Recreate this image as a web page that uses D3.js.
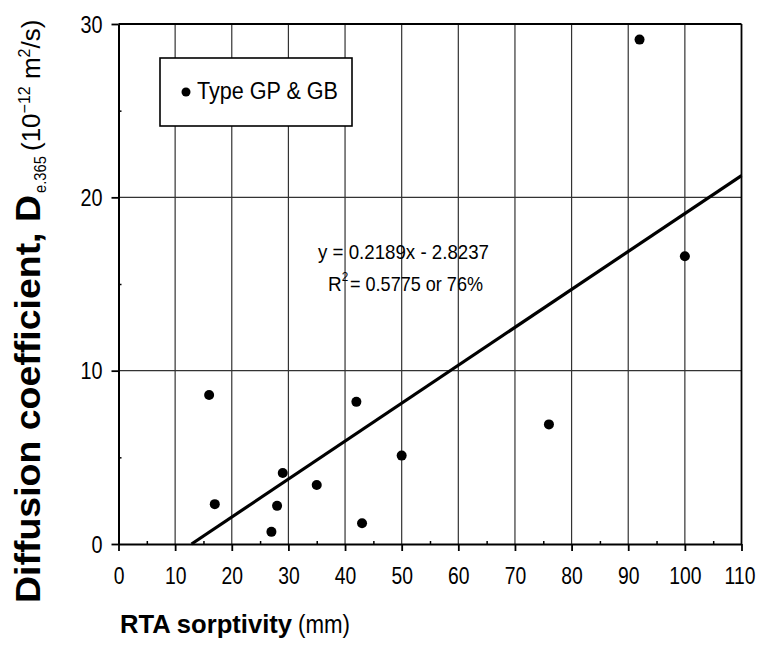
<!DOCTYPE html>
<html><head><meta charset="utf-8">
<script src="https://cdn.jsdelivr.net/npm/d3@7"></script>
<style>
html,body{margin:0;padding:0;background:#fff;}
svg text{font-family:"Liberation Sans",Arial,Helvetica,sans-serif;fill:#000;}
</style></head>
<body><svg id="c" width="761" height="652"></svg>
<script>
// ---- data ----
const sorptivity = [16, 17, 27, 28, 29, 35, 42, 43, 50, 76, 92, 100];
const diffusion  = [8.6, 2.3, 0.7, 2.2, 4.1, 3.4, 8.2, 1.2, 5.1, 6.9, 29.1, 16.6];
const xTicks = [0,10,20,30,40,50,60,70,80,90,100,110];
const xMinor = [5,15,25,35,45,55,65,75,85,95,105];
const yTicks = [0,10,20,30];
const yMinor = [5,15,25];
const slope = 0.2189, intercept = -2.8237;
const eqLine1 = "y = 0.2189x - 2.8237";
const eqLine2 = "= 0.5775 or 76%";
const legendLabel = "Type GP & GB";

const svg = d3.select("#c");
const x = d3.scaleLinear().domain([0,110]).range([118.5,741.5]);
const y = d3.scaleLinear().domain([0,30]).range([544,24]);

function condense(sel, f){
  sel.each(function(){ const L=this.getComputedTextLength(); d3.select(this).attr("textLength",L*f).attr("lengthAdjust","spacingAndGlyphs"); });
}

// grid
const g = svg.append("g");
g.selectAll("line.vg").data(xTicks.slice(1,-1)).join("line")
  .attr("x1",d=>x(d)).attr("x2",d=>x(d)).attr("y1",y(0)).attr("y2",y(30))
  .attr("stroke","#333").attr("stroke-width",1.2);
g.selectAll("line.hg").data([10,20]).join("line")
  .attr("x1",x(0)).attr("x2",x(110)).attr("y1",d=>y(d)).attr("y2",d=>y(d))
  .attr("stroke","#333").attr("stroke-width",1.2);
// frame top/right
svg.append("line").attr("x1",x(0)).attr("x2",x(110)).attr("y1",y(30)).attr("y2",y(30)).attr("stroke","#000").attr("stroke-width",1.8);
svg.append("line").attr("x1",x(110)).attr("x2",x(110)).attr("y1",y(0)).attr("y2",y(30)).attr("stroke","#000").attr("stroke-width",1.8);

// axes
const fs = "23px";
const xa = svg.append("g").attr("transform",`translate(0,${y(0)})`)
  .call(d3.axisBottom(x).tickValues(xTicks).tickSize(7).tickSizeOuter(0));
xa.select(".domain").attr("stroke-width",2);
xa.selectAll(".tick line").attr("stroke-width",1.8);
xa.selectAll("text").attr("font-size",fs).attr("font-family",null).attr("y",40).attr("dy",0)
  .attr("dx",d=>d===110?-2:0);
condense(xa.selectAll("text"),0.84);
const xm = svg.append("g").attr("transform",`translate(0,${y(0)})`)
  .call(d3.axisBottom(x).tickValues(xMinor).tickSize(-3).tickFormat(""));
xm.select(".domain").remove();
xm.selectAll(".tick line").attr("stroke-width",1.5);

const ya = svg.append("g").attr("transform",`translate(${x(0)},0)`)
  .call(d3.axisLeft(y).tickValues(yTicks).tickSize(7).tickSizeOuter(0).tickPadding(9));
ya.select(".domain").attr("stroke-width",2);
ya.selectAll(".tick line").attr("stroke-width",1.8);
ya.selectAll("text").attr("font-size",fs).attr("font-family",null).attr("dy","0.36em");
condense(ya.selectAll("text"),0.86);
const ym = svg.append("g").attr("transform",`translate(${x(0)},0)`)
  .call(d3.axisLeft(y).tickValues(yMinor).tickSize(-3).tickFormat(""));
ym.select(".domain").remove();
ym.selectAll(".tick line").attr("stroke-width",1.5);

// regression line
const x0 = -intercept/slope;
svg.append("line")
  .attr("x1",x(x0)).attr("y1",y(slope*x0+intercept))
  .attr("x2",x(110)).attr("y2",y(slope*110+intercept))
  .attr("stroke","#000").attr("stroke-width",3.2);

// points
svg.selectAll("circle.pt").data(sorptivity.map((s,i)=>[s,diffusion[i]])).join("circle")
  .attr("cx",d=>x(d[0])).attr("cy",d=>y(d[1])).attr("r",5).attr("fill","#000");

// equation
svg.append("text").attr("x",318).attr("y",259).attr("font-size","21px")
  .attr("textLength",171).attr("lengthAdjust","spacingAndGlyphs").text(eqLine1);
const r2 = svg.append("text").attr("x",328).attr("y",291).attr("font-size","21px");
r2.append("tspan").text("R");
r2.append("tspan").attr("font-size","13px").attr("dy",-10).text("2");
condense(r2, 0.9);
svg.append("text").attr("x",350).attr("y",291).attr("font-size","21px")
  .attr("textLength",133).attr("lengthAdjust","spacingAndGlyphs").text(eqLine2);

// legend
svg.append("rect").attr("x",160).attr("y",58).attr("width",192).attr("height",68)
  .attr("fill","#fff").attr("stroke","#000").attr("stroke-width",1.6);
svg.append("circle").attr("cx",186).attr("cy",92).attr("r",4.5).attr("fill","#000");
svg.append("text").attr("x",197).attr("y",99).attr("font-size","23px")
  .attr("textLength",141).attr("lengthAdjust","spacingAndGlyphs").text(legendLabel);

// x title
svg.append("text").attr("x",120).attr("y",633).attr("font-size","26px").attr("font-weight","bold")
  .attr("textLength",172).attr("lengthAdjust","spacingAndGlyphs").text("RTA sorptivity");
svg.append("text").attr("x",298).attr("y",633).attr("font-size","25px")
  .attr("textLength",52).attr("lengthAdjust","spacingAndGlyphs").text("(mm)");

// y title (rotated group; local x = distance up from screen y=603)
const yg = svg.append("g").attr("transform","translate(40,603) rotate(-90)");
yg.append("text").attr("x",0).attr("y",0).attr("font-size","35px").attr("font-weight","bold")
  .attr("textLength",408).attr("lengthAdjust","spacingAndGlyphs").text("Diffusion coefficient, D");
yg.append("text").attr("x",410).attr("y",6).attr("font-size","17px")
  .attr("textLength",37).attr("lengthAdjust","spacingAndGlyphs").text("e.365");
const yp = yg.append("text").attr("x",452).attr("y",0).attr("font-size","26px");
yp.append("tspan").text("(10");
yp.append("tspan").attr("font-size","16px").attr("dy",-10).text("−12");
yp.append("tspan").attr("dy",10).text(" m");
yp.append("tspan").attr("font-size","16px").attr("dy",-10).text("2");
yp.append("tspan").attr("dy",10).text("/s)");
</script></body></html>
